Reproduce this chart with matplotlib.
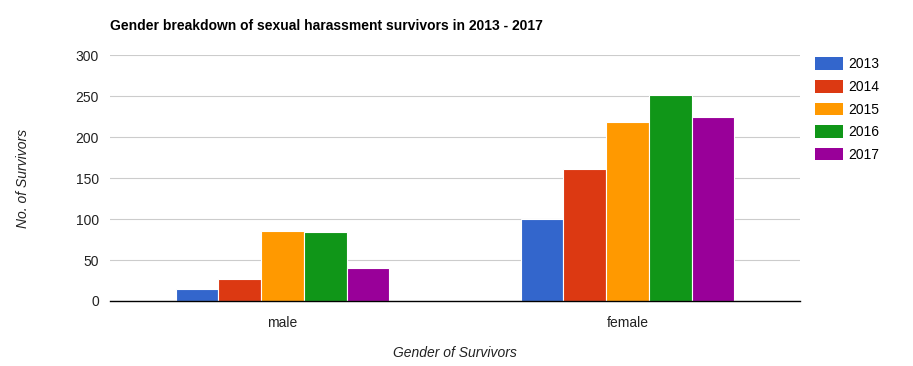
import numpy as np
import matplotlib
matplotlib.use('Agg')
import matplotlib.pyplot as plt
from matplotlib.patches import Patch

categories = ['male', 'female']
years = ['2013', '2014', '2015', '2016', '2017']
values = {
    '2013': [15, 100],
    '2014': [27, 161],
    '2015': [85, 218],
    '2016': [84, 251],
    '2017': [40, 224],
}
colors = ['#3366cc', '#dc3912', '#ff9900', '#109618', '#990099']

plt.rcParams['font.family'] = ['Liberation Sans', 'DejaVu Sans']

fig = plt.figure(figsize=(9.13, 3.66), dpi=100)
ax = fig.add_axes([0.1205, 0.1776, 0.7557, 0.6721])

x = np.arange(len(categories))
group_w = 0.62
bw = group_w / len(years)
for i, yr in enumerate(years):
    ax.bar(x - group_w / 2 + bw * (i + 0.5), values[yr], width=bw,
           color=colors[i], edgecolor='white', linewidth=0.8, zorder=3)

ax.set_xlim(-0.5, 1.5)
ax.set_ylim(0, 300)
ax.set_yticks(range(0, 301, 50))
ax.set_xticks(x)
ax.set_xticklabels(categories)
ax.tick_params(length=0, labelsize=10, colors='#222222')
ax.tick_params(axis='y', pad=8)
ax.tick_params(axis='x', pad=11)
ax.grid(axis='y', color='#cccccc', linewidth=0.8, zorder=0)
for s in ['top', 'right', 'left']:
    ax.spines[s].set_visible(False)
ax.spines['bottom'].set_color('black')
ax.spines['bottom'].set_linewidth(1.0)
ax.spines['bottom'].set_zorder(4)

fig.text(0.1205, 0.928, 'Gender breakdown of sexual harassment survivors in 2013 - 2017',
         fontsize=10, fontweight='bold', color='black', va='center', ha='left')
fig.text(0.025, 0.513, 'No. of Survivors', rotation=90, fontsize=10, style='italic',
         color='#222222', va='center', ha='center')
fig.text(0.498, 0.036, 'Gender of Survivors', fontsize=10, style='italic',
         color='#222222', va='center', ha='center')

handles = [Patch(facecolor=c, label=y) for c, y in zip(colors, years)]
fig.legend(handles=handles, loc='upper left', bbox_to_anchor=(0.885, 0.862),
           frameon=False, fontsize=10, handlelength=2.0, handleheight=1.0,
           labelspacing=0.62, handletextpad=0.4, borderpad=0)

fig.savefig('out.png', dpi=100)
